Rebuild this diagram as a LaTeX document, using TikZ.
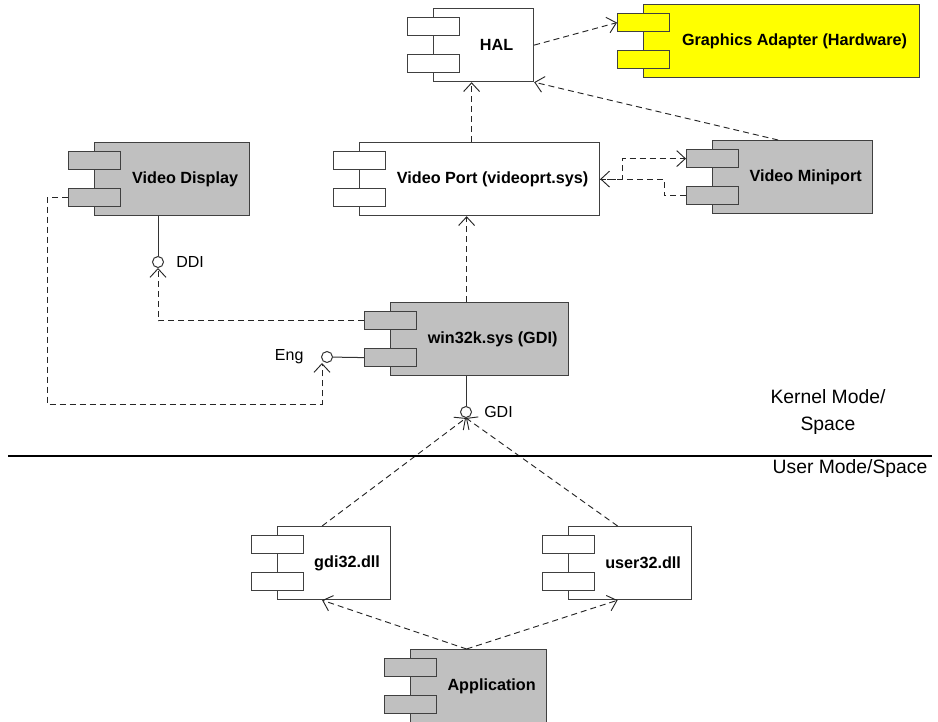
\documentclass[tikz,border=0pt]{standalone}
\usepackage{fontspec}
\setmainfont{Liberation Sans}
\usetikzlibrary{calc, arrows.meta}
\definecolor{compgray}{HTML}{C0C0C0}
\definecolor{hwyellow}{HTML}{FFFF00}
\newcommand{\component}[5]{%
  \node[comp, fill=#4, minimum width=#3] (#1) at (#2) {#5};
  \node[tab, fill=#4] (#1a) at ($(#1.north west)+(-26,9)$) {};
  \node[tab, fill=#4] (#1b) at ($(#1.north west)+(-26,46)$) {};
}

\begin{document}
\begin{tikzpicture}[x=0.75pt, y=-0.75pt,
    >={Straight Barb[length=6.5pt,width=12pt]},
    comp/.style={draw=black!75, line width=0.9pt, anchor=north west,
      minimum height=54.75pt, inner sep=0pt,
      font=\fontsize{12.15}{14}\selectfont\bfseries,
      execute at begin node=\hspace*{19.5pt}},
    tab/.style={draw=black!75, line width=0.9pt, anchor=north west,
      minimum width=39pt, minimum height=13.5pt, inner sep=0pt},
    dep/.style={->, draw=black!85, line width=0.7pt, dash pattern=on 4.5pt off 3pt},
    wire/.style={draw=black!80, line width=0.75pt},
    lolli/.style={circle, draw=black!80, fill=white, line width=0.75pt,
      minimum size=8.25pt, inner sep=0pt},
    iftext/.style={font=\fontsize{12}{14}\selectfont, inner sep=0pt},
    modetext/.style={font=\fontsize{14.5}{20.25}\selectfont, align=center}]
  \useasboundingbox (0,0) rectangle (938,721);

  \component{hal}{433,8}{75pt}{white}{HAL}
  \component{gfx}{643,4}{207pt}{hwyellow}{Graphics Adapter (Hardware)}
  \component{vdisp}{94,142}{116.25pt}{compgray}{Video Display}
  \component{vport}{359,142}{180pt}{white}{Video Port (videoprt.sys)}
  \component{mini}{712,140}{120pt}{compgray}{Video Miniport}
  \component{win}{390,302}{133.5pt}{compgray}{win32k.sys (GDI)}
  \component{gdidll}{277,526}{84.75pt}{white}{gdi32.dll}
  \component{userdll}{568,526}{92.25pt}{white}{user32.dll}
  \component{app}{410,649}{102pt}{compgray}{Application}

  \node[lolli, label={[iftext, label distance=9pt]right:DDI}] (ddiif) at (158,262) {};
  \node[lolli, label={[iftext, label distance=13pt]left:Eng}] (engif) at (327,357) {};
  \node[lolli, label={[iftext, label distance=9pt]right:GDI}] (gdiif) at (466,412) {};

  \coordinate (halin) at ([xshift=-9pt]hal.south);
  \coordinate (portin) at ([xshift=-9.75pt]win.north);
  \coordinate (gdidllin) at ([xshift=-9pt]gdidll.north);
  \coordinate (userdllin) at ([xshift=-9.4pt]userdll.north);
  \coordinate (appout) at ([xshift=-9pt]app.north);
  \coordinate (engturn) at (322,404);
  \coordinate (sepl) at (8,456);
  \coordinate (sepr) at (932,456);

  \draw[dep] (hal.east) -- (gfxa.west);
  \draw[dep] (halin |- vport.north) -- (halin);
  \draw[dep] ($(mini.north west)!0.41!(mini.north east)$) -- (hal.south east);
  \draw[dep] (vport.east) -- ++(22,0) |- (minia.west);
  \draw[dep] (minib.west) -- ++(-22,0) |- (vport.east);
  \draw[dep] (portin) -- (portin |- vport.south);

  \draw[wire] (vdisp.south -| ddiif) -- (ddiif);
  \draw[dep] (wina.west) -| (ddiif.south);
  \draw[wire] (engif) -- (winb.west);
  \draw[dep] (vdispb.west) -- ++(-21,0) |- (engturn) -- (engturn |- engif.south);
  \draw[wire] (win.south -| gdiif) -- (gdiif);
  \draw[dep] (gdidllin) -- (gdiif.south);
  \draw[dep] (userdllin) -- (gdiif.south);
  \draw[dep] (appout) -- (gdidllin |- gdidll.south);
  \draw[dep] (appout) -- (userdllin |- userdll.south);

  \draw[line width=1.1pt] (sepl) -- (sepr);
  \node[modetext] (kernel) at (828,412) {Kernel Mode/\\Space};
  \node[modetext] (usermode) at (850,468) {User Mode/Space};
\end{tikzpicture}
\end{document}
